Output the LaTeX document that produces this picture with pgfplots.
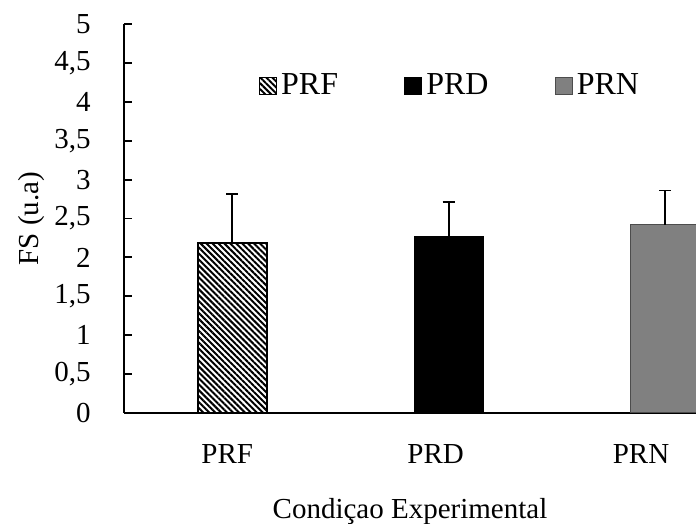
\documentclass[border=0pt]{standalone}
\usepackage{fontspec}
\setmainfont{Liberation Serif}
\usepackage{pgfplots}
\pgfplotsset{compat=1.18}
\usetikzlibrary{patterns.meta}
\definecolor{barGray}{RGB}{128,128,128}
\pgfplotsset{
  errstyle/.style={error bars/.cd, y dir=plus, y explicit, error mark=-,
    error bar style={line width=0.9pt, black},
    error mark options={rotate=90, line width=0.9pt, mark size=3pt, black}},
}
\begin{document}
\begin{tikzpicture}
\begin{axis}[
  at={(0pt,0pt)}, anchor=south west,
  scale only axis, width=286pt, height=194.5pt,
  xmin=-0.5, xmax=2.143, ymin=0, ymax=5,
  axis lines=left, axis line style={-, line width=0.9pt, black},
  font=\fontsize{14.5}{16}\selectfont,
  ybar, bar shift=0pt, bar width=34.5pt,
  ytick={0,0.5,1,1.5,2,2.5,3,3.5,4,4.5,5},
  yticklabels={0,{0,5},1,{1,5},2,{2,5},3,{3,5},4,{4,5},5},
  yticklabel style={anchor=east, inner sep=0pt},
  yticklabel shift=16.5pt,
  xtick={-0.023,0.94,1.889}, xticklabels={PRF,PRD,PRN},
  xtick style={draw=none},
  xticklabel style={anchor=base, inner sep=0pt, yshift=-25.5pt},
  major tick length=4pt, tick align=inside,
  ytick style={line width=0.9pt, black},
  xlabel={Condiçao Experimental},
  xlabel style={at={(axis description cs:0.5,0)}, anchor=base, yshift=-52.5pt},
  ylabel={FS (u.a)},
  ylabel style={at={(axis description cs:-0.1608,0.5)}, anchor=center},
  legend columns=3,
  legend style={at={(axis description cs:0.236,0.8406)}, anchor=west,
    draw=none, fill=none, inner sep=0pt, outer sep=0pt,
    font=\fontsize{16}{18}\selectfont,
    /tikz/every even column/.append style={column sep=31pt}},
  legend image code/.code={\draw[#1, line width=0.6pt] (0pt,-4.25pt) rectangle (8.5pt,4.25pt);},
]
\addplot[draw=black, line width=0.9pt,
  pattern={Lines[angle=-45,distance=2.1pt,line width=1pt]}, errstyle]
  coordinates {(0,2.18) +- (0,0.63)};
\addlegendentry{PRF}
\addplot[draw=black, fill=black, line width=0.5pt, errstyle]
  coordinates {(1,2.275) +- (0,0.44)};
\addlegendentry{PRD}
\addplot[draw=black!70, fill=barGray, line width=0.5pt, errstyle]
  coordinates {(2,2.42) +- (0,0.44)};
\addlegendentry{PRN}
\end{axis}
\pgfresetboundingbox
\path[use as bounding box] (-62pt,-55.5pt) rectangle (286pt,206.5pt);
\end{tikzpicture}
\end{document}
